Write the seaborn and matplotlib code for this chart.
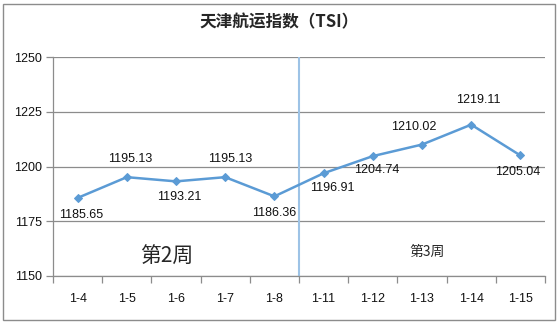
import matplotlib
matplotlib.use("Agg")
import matplotlib.pyplot as plt
import seaborn as sns
import pandas as pd
from matplotlib.patches import Rectangle

dates = ["1-4", "1-5", "1-6", "1-7", "1-8", "1-11", "1-12", "1-13", "1-14", "1-15"]
tsi = [1185.65, 1195.13, 1193.21, 1195.13, 1186.36, 1196.91, 1204.74, 1210.02, 1219.11, 1205.04]
label_above = [False, True, False, True, False, False, False, True, True, False]
y_ticks = [1150, 1175, 1200, 1225, 1250]
title = "天津航运指数（TSI）"
week_labels = ["第2周", "第3周"]

# label placement tweaks (pixels), layout only
label_dx = [4, 3, 3, 5, 0, 9, 4, -8, 7, -3]
label_dy = [17, 18, 16, 18, 17, 15, 14, 18, 25, 17]

sns.set_theme(style="white")
plt.rcParams["font.family"] = ["Noto Sans CJK SC", "DejaVu Sans"]

df = pd.DataFrame({"idx": range(len(dates)), "tsi": tsi})

fig = plt.figure(figsize=(5.59, 3.24), dpi=100)
fig.patches.append(Rectangle((3/559, 4/324), 552/559, 316/324, transform=fig.transFigure,
                             fill=False, edgecolor="#8c8c8c", linewidth=1.0))
ax = fig.add_axes([53/559, 48/324, 492/559, 219/324])

color = "#5B9BD5"
sns.lineplot(data=df, x="idx", y="tsi", ax=ax, color=color, linewidth=1.8,
             marker="D", markersize=4.5, markeredgecolor=color)

ax.set_xlim(-0.5, len(dates) - 0.5)
ax.set_ylim(y_ticks[0], y_ticks[-1])
ax.set_yticks(y_ticks)
ax.set_yticklabels([str(v) for v in y_ticks], fontsize=9, family="Liberation Sans", color="#111111")
ax.yaxis.grid(True, color="#8c8c8c", linewidth=0.9)
ax.set_axisbelow(True)

ax.set_xticks([i - 0.5 for i in range(len(dates) + 1)])
ax.set_xticklabels([""] * (len(dates) + 1))
ax.set_xticks(range(len(dates)), minor=True)
ax.set_xticklabels(dates, minor=True, fontsize=9, family="Liberation Sans", color="#111111")
ax.tick_params(axis="x", which="major", length=5, color="#8c8c8c", width=0.9, direction="out", bottom=True)
ax.tick_params(axis="x", which="minor", length=0, pad=12, bottom=True)
ax.tick_params(axis="y", length=5, color="#8c8c8c", width=0.9, direction="out", left=True, pad=3)
ax.set_xlabel("")
ax.set_ylabel("")

for s in ["top", "right"]:
    ax.spines[s].set_visible(False)
for s in ["left", "bottom"]:
    ax.spines[s].set_color("#8c8c8c")
    ax.spines[s].set_linewidth(0.9)

ax.axvline(4.5, color="#9dc3e6", linewidth=1.5, zorder=1)

for i, (v, up) in enumerate(zip(tsi, label_above)):
    dy = label_dy[i] * 0.72
    off = dy if up else -dy
    ax.annotate(f"{v:.2f}", (i, v), xytext=(label_dx[i] * 0.72, off), textcoords="offset points",
                ha="center", va="center", fontsize=9, family="Liberation Sans", color="#111111")

ax.text(1.82, 1158.7, week_labels[0], fontsize=15, ha="center", va="center")
ax.text(7.1, 1161, week_labels[1], fontsize=10, ha="center", va="center")

fig.text(0.5, 1 - 22/324, title, ha="center", va="center", fontsize=12, fontweight="bold")

fig.savefig("out.png", dpi=100)
